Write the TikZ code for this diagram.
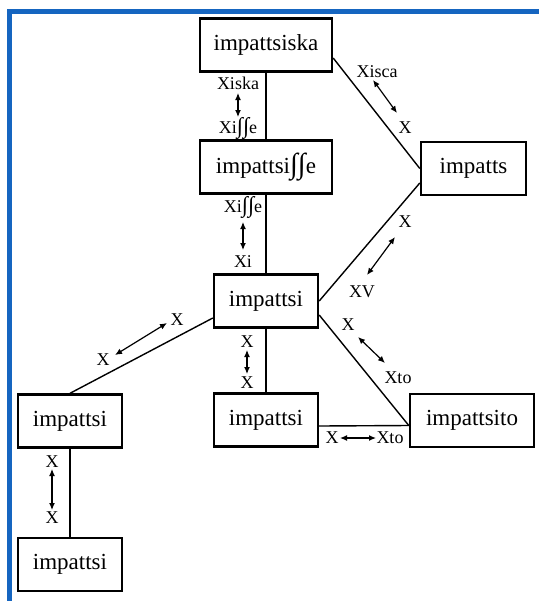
\documentclass[tikz,border=0pt]{standalone}
\usepackage{fontspec}
\setmainfont{Liberation Serif}
\usetikzlibrary{arrows.meta}
\definecolor{frameblue}{RGB}{21,101,192}
\newcommand{\bigesh}{{\fontsize{1.25em}{1em}\selectfont ∫∫}}

\begin{document}
\begin{tikzpicture}[x=0.5pt, y=-0.5pt,
        box/.style={draw, line width=1.2pt, font=\fontsize{11.5}{13}\selectfont, minimum height=26.5pt, inner sep=0pt},
        lbl/.style={font=\fontsize{9}{10}\selectfont, inner sep=0pt},
        link/.style={line width=0.7pt},
        dbl/.style={{Latex[length=3.5pt,width=3pt]}-{Latex[length=3.5pt,width=3pt]}, line width=0.6pt}]
        \useasboundingbox (0,0) rectangle (539,601);

        % Frame, top and left only
        \draw[frameblue, line width=2.5pt] (9.5,601) -- (9.5,11.5) -- (539,11.5);

        % Boxes
        \node[box, minimum width=66pt] (iska) at (266,45) {impattsiska};
        \node[box, minimum width=66pt] (sse) at (266,167) {impattsi\bigesh e};
        \node[box, minimum width=52.5pt] (impatts) at (473.5,168.5) {impatts};
        \node[box, minimum width=52pt] (mid) at (266,301) {impattsi};
        \node[box, minimum width=52pt] (left) at (70,421) {impattsi};
        \node[box, minimum width=52pt] (low) at (70,564.5) {impattsi};
        \node[box, minimum width=52pt] (mid2) at (266,420) {impattsi};
        \node[box, minimum width=62pt] (ito) at (472,420.5) {impattsito};

        % Links between boxes
        \draw[link] (iska) -- (sse);
        \draw[link] (sse) -- (mid);
        \draw[link] ([yshift=-6.5pt]iska.east) -- (impatts.west);
        \draw[link] ([yshift=-7.25pt]impatts.west) -- (mid.east);
        \draw[link] ([yshift=-8.5pt]mid.west) -- (left.north);
        \draw[link] (mid) -- (mid2);
        \draw[link] ([yshift=-7pt]mid.east) -- ([yshift=-2.5pt]ito.west);
        \draw[link] ([yshift=-3pt]mid2.east) -- ([yshift=-2.5pt]ito.west);
        \draw[link] (left) -- (low);

        % iska <-> sse
        \node[lbl] (lA1) at (238,83) {Xiska};
        \node[lbl] (lA2) at (238,128) {Xi\bigesh e};
        \coordinate (a1) at (238,93);
        \coordinate (b1) at (238,117);
        \draw[dbl] (a1) -- (b1);

        % sse <-> mid
        \node[lbl] (lB1) at (243,207) {Xi\bigesh e};
        \node[lbl] (lB2) at (243,262) {Xi};
        \coordinate (a2) at (243,222);
        \coordinate (b2) at (243,250);
        \draw[dbl] (a2) -- (b2);

        % iska <-> impatts
        \node[lbl] (lC1) at (377,72) {Xisca};
        \node[lbl] (lC2) at (405,128) {X};
        \coordinate (a3) at (373,80);
        \coordinate (b3) at (397,113);
        \draw[dbl] (a3) -- (b3);

        % impatts <-> mid
        \node[lbl] (lD1) at (405,222) {X};
        \node[lbl] (lD2) at (362,292) {XV};
        \coordinate (a4) at (395,237);
        \coordinate (b4) at (367,275);
        \draw[dbl] (a4) -- (b4);

        % mid <-> left
        \node[lbl] (lE1) at (177,320) {X};
        \node[lbl] (lE2) at (103,360) {X};
        \coordinate (a5) at (167,323);
        \coordinate (b5) at (115,355);
        \draw[dbl] (a5) -- (b5);

        % mid <-> mid2
        \node[lbl] (lF1) at (247,342) {X};
        \node[lbl] (lF2) at (247,383) {X};
        \coordinate (a6) at (247,350);
        \coordinate (b6) at (247,374);
        \draw[dbl] (a6) -- (b6);

        % mid <-> ito
        \node[lbl] (lG1) at (348,325) {X};
        \node[lbl] (lG2) at (398,378) {Xto};
        \coordinate (a7) at (358,337);
        \coordinate (b7) at (385,363);
        \draw[dbl] (a7) -- (b7);

        % mid2 <-> ito
        \node[lbl] (lH1) at (332,438) {X};
        \node[lbl] (lH2) at (390,438) {Xto};
        \coordinate (a8) at (340,438);
        \coordinate (b8) at (376,438);
        \draw[dbl] (a8) -- (b8);

        % left <-> low
        \node[lbl] (lJ1) at (52,462) {X};
        \node[lbl] (lJ2) at (52,518) {X};
        \coordinate (a9) at (52,469);
        \coordinate (b9) at (52,510);
        \draw[dbl] (a9) -- (b9);
    \end{tikzpicture}
\end{document}
